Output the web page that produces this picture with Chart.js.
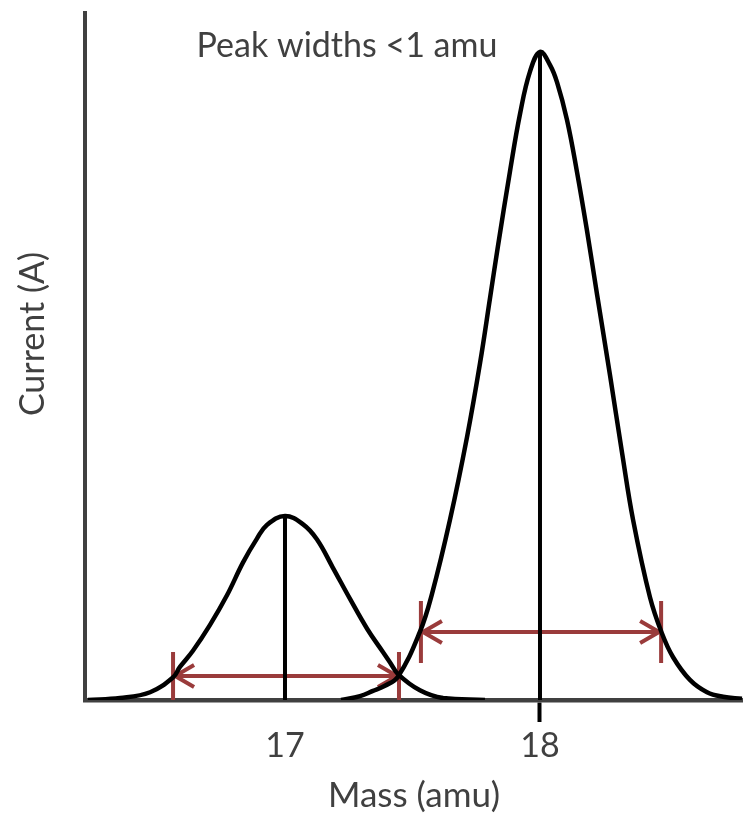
<!DOCTYPE html>
<html>
<head>
<meta charset="utf-8">
<script src="https://cdn.jsdelivr.net/npm/chart.js@4/dist/chart.umd.min.js"></script>
<style>
html, body { margin: 0; padding: 0; background: #fff; }
#wrap { position: relative; width: 743px; height: 815px; }
</style>
</head>
<body>
<div id="wrap"><canvas id="c"></canvas></div>
<script>
// peak at mass 17
const mass17 = [16.227, 16.353, 16.471, 16.561, 16.588, 16.639, 16.706, 16.773, 16.835, 16.890, 16.929, 17.000,
	17.071, 17.125, 17.188, 17.255, 17.322, 17.384, 17.412, 17.443, 17.529, 17.620, 17.784]
const current17 = [0, 0.3, 1.2, 3.5, 5.1, 7.6, 11.6, 16.2, 21.2, 24.9, 27.0, 28.4,
	27.1, 24.8, 20.4, 15.6, 11.0, 7.4, 5.8, 4.0, 1.5, 0.3, 0]

// peak at mass 18
const mass18 = [17.220, 17.294, 17.345, 17.392, 17.443, 17.529, 17.576, 17.647, 17.714, 17.765, 17.804, 17.835,
	17.882, 17.922, 17.961, 18.000, 18.039, 18.067, 18.106, 18.145, 18.184, 18.224, 18.275, 18.322, 18.365,
	18.431, 18.478, 18.522, 18.588, 18.655, 18.718, 18.792]
const current18 = [0, 0.6, 1.4, 2.2, 3.6, 10.5, 16.3, 27.8, 40.6, 52.0, 62.0, 70.0,
	81.5, 90.5, 97.0, 100, 98.0, 95.3, 89.5, 81.5, 72.5, 62.5, 50.0, 38.1, 27.8,
	15.9, 10.3, 6.6, 3.1, 1.2, 0.5, 0.2]

const peakMass = [17, 18]
const peakCurrent = [28.4, 100]
const massTicks = [17, 18]

// width arrows
const widthFrom = [16.561, 17.533]
const widthTo = [17.447, 18.475]
const widthLevel = [3.7, 10.5]

const ink = '#404040'
const arrowRed = '#9a3b3b'
const fam = 'Lato, "Open Sans", sans-serif'

const pts = (xs, ys) => xs.map((v, i) => ({x: v, y: ys[i]}))

const curve = (xs, ys) => ({
	data: pts(xs, ys),
	borderColor: '#000',
	borderWidth: 4.5,
	pointRadius: 0,
	tension: 0.4,
	fill: false
})

const stem = i => ({
	data: [{x: peakMass[i], y: 0}, {x: peakMass[i], y: peakCurrent[i]}],
	borderColor: '#000',
	borderWidth: 4,
	pointRadius: 0,
	tension: 0,
	fill: false
})

const widthArrows = {
	id: 'widthArrows',
	beforeDatasetsDraw(chart, args, o) {
		const {ctx, scales: {x, y}} = chart
		ctx.save()
		ctx.strokeStyle = o.color
		ctx.lineWidth = o.lineWidth
		ctx.lineJoin = 'miter'
		widthLevel.forEach((lv, i) => {
			const x1 = x.getPixelForValue(widthFrom[i])
			const x2 = x.getPixelForValue(widthTo[i])
			const yy = y.getPixelForValue(lv)
			const h = o.barHalf[i]
			ctx.beginPath()
			ctx.moveTo(x1, yy); ctx.lineTo(x2, yy)
			ctx.moveTo(x1, yy - h); ctx.lineTo(x1, yy + h)
			ctx.moveTo(x2, yy - h); ctx.lineTo(x2, yy + h)
			ctx.stroke()
			ctx.beginPath()
			ctx.moveTo(x1 + o.head, yy - o.headW); ctx.lineTo(x1 + 2, yy); ctx.lineTo(x1 + o.head, yy + o.headW)
			ctx.moveTo(x2 - o.head, yy - o.headW); ctx.lineTo(x2 - 2, yy); ctx.lineTo(x2 - o.head, yy + o.headW)
			ctx.stroke()
		})
		ctx.restore()
	}
}

const labels = {
	id: 'labels',
	afterDraw(chart, args, o) {
		const {ctx} = chart
		ctx.save()
		ctx.fillStyle = ink
		ctx.font = o.font
		ctx.textAlign = 'center'
		ctx.textBaseline = 'middle'
		ctx.fillText('Peak widths <1 amu', 347, 46)
		ctx.translate(33, 334)
		ctx.rotate(-Math.PI / 2)
		ctx.fillText('Current (A)', 0, 0)
		ctx.restore()
	}
}

new Chart(document.getElementById('c'), {
	type: 'line',
	data: {
		datasets: [curve(mass17, current17), curve(mass18, current18), stem(0), stem(1)]
	},
	options: {
		responsive: true,
		maintainAspectRatio: false,
		animation: false,
		layout: {padding: {top: 13, right: 0, bottom: 0, left: 0}},
		plugins: {
			legend: {display: false},
			tooltip: {enabled: false},
			widthArrows: {color: arrowRed, lineWidth: 4, barHalf: [24, 31], head: 21, headW: 11},
			labels: {font: '34px ' + fam}
		},
		scales: {
			x: {
				type: 'linear',
				min: 16.2157,
				max: 18.7961,
				afterFit: s => { s.height = 115 },
				afterBuildTicks: s => { s.ticks = massTicks.map(v => ({value: v})) },
				grid: {
					display: true,
					drawOnChartArea: false,
					drawTicks: true,
					tickLength: 22,
					tickWidth: 4,
					tickColor: c => c.tick && c.tick.value === 18 ? '#000' : 'rgba(0,0,0,0)'
				},
				border: {display: true, color: ink, width: 4.5},
				ticks: {color: ink, font: {family: fam, size: 34}, padding: 4, maxRotation: 0},
				title: {display: true, text: 'Mass (amu)', color: ink, font: {family: fam, size: 35, lineHeight: 1.1}, padding: 0}
			},
			y: {
				type: 'linear',
				min: 0,
				max: 106,
				afterFit: s => { s.width = 85 },
				grid: {display: false},
				border: {display: true, color: ink, width: 4},
				ticks: {display: false}
			}
		}
	},
	plugins: [widthArrows, labels]
})
</script>
</body>
</html>
